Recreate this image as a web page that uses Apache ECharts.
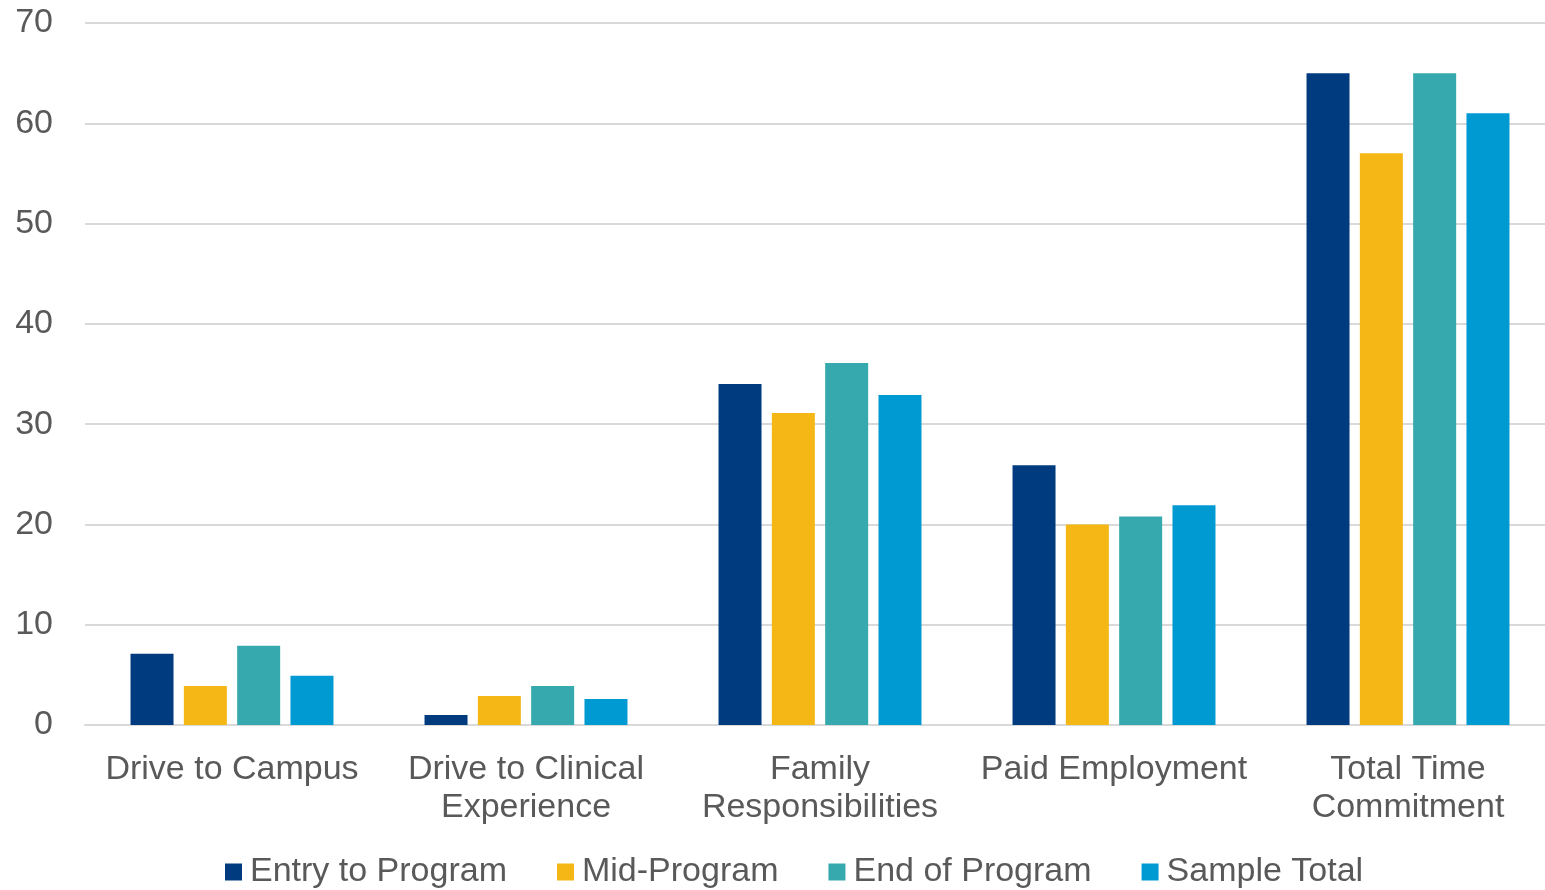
<!DOCTYPE html>
<html>
<head>
<meta charset="utf-8">
<script src="https://cdn.jsdelivr.net/npm/echarts@6/dist/echarts.min.js"></script>
<style>
  html, body { margin: 0; padding: 0; background: #ffffff; }
  #chart { width: 1545px; height: 890px; }
</style>
</head>
<body>
<div id="chart"></div>
<script>
// Weekly hours by activity, at each stage of the program
const categories = [
  'Drive to Campus',
  'Drive to Clinical\nExperience',
  'Family\nResponsibilities',
  'Paid Employment',
  'Total Time\nCommitment'
];
const entryToProgram = [7.1, 1.0, 34.0, 25.9, 65.0];
const midProgram     = [3.9, 2.9, 31.1, 20.0, 57.0];
const endOfProgram   = [7.9, 3.9, 36.1, 20.8, 65.0];
const sampleTotal    = [4.9, 2.6, 32.9, 21.9, 61.0];
const seriesNames = ['Entry to Program', 'Mid-Program', 'End of Program', 'Sample Total'];
const seriesColors = ['#003B80', '#F4B715', '#36A9AE', '#009AD3'];
const yTicks = { min: 0, max: 70, interval: 10 };

const textColor = '#595959';
const fontFamily = '"Liberation Sans", Arial, sans-serif';

const chart = echarts.init(document.getElementById('chart'), null, { renderer: 'canvas' });

const seriesData = [entryToProgram, midProgram, endOfProgram, sampleTotal];

chart.setOption({
  animation: false,
  backgroundColor: '#ffffff',
  textStyle: { fontFamily: fontFamily },
  // plot area runs slightly past the right edge of the canvas
  grid: {
    left: 85, right: -10, top: 23, bottom: 165,
    containLabel: false,
    outerBoundsMode: 'none'
  },
  legend: {
    data: seriesNames,
    left: 220,
    top: 850,
    itemWidth: 17,
    itemHeight: 17,
    itemGap: 50,
    icon: 'rect',
    textStyle: {
      color: textColor,
      fontSize: 34,
      lineHeight: 34,
      fontFamily: fontFamily,
      padding: [0, 0, 0, 3]
    }
  },
  xAxis: {
    type: 'category',
    data: categories,
    axisLine: { show: true, lineStyle: { color: '#D9D9D9', width: 2 } },
    axisTick: { show: false },
    axisLabel: {
      color: textColor,
      fontSize: 34,
      lineHeight: 38,
      margin: 26,
      interval: 0,
      fontFamily: fontFamily
    }
  },
  yAxis: {
    type: 'value',
    min: yTicks.min,
    max: yTicks.max,
    interval: yTicks.interval,
    axisLine: { show: false },
    axisTick: { show: false },
    splitLine: { lineStyle: { color: '#D9D9D9', width: 2 } },
    axisLabel: {
      color: textColor,
      fontSize: 34,
      margin: 32,
      fontFamily: fontFamily
    }
  },
  series: seriesNames.map((name, i) => ({
    name: name,
    type: 'bar',
    data: seriesData[i],
    barWidth: 43,
    barGap: '24%',
    itemStyle: { color: seriesColors[i] }
  }))
});
</script>
</body>
</html>
